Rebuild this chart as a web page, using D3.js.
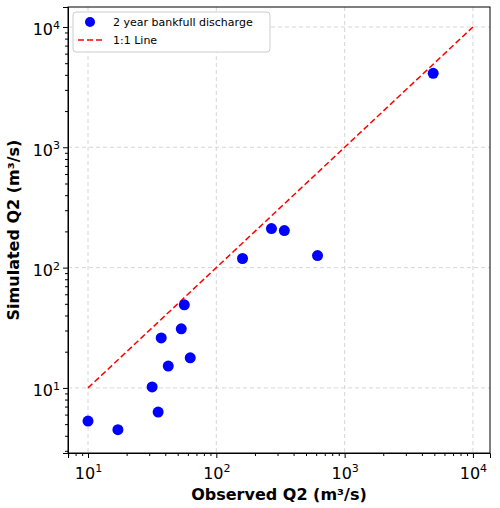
<!DOCTYPE html>
<html><head><meta charset="utf-8">
<script src="https://cdn.jsdelivr.net/npm/d3@7"></script>
<style>body{margin:0;background:#fff}text{font-family:"DejaVu Sans",sans-serif}</style>
</head><body><svg id="c" width="500" height="508"></svg>
<script>
const observed = [10, 17.1, 31.6, 35.2, 37.2, 42.2, 53.3, 56.3, 62.6, 160, 269, 339, 615, 4900];
const simulated = [5.3, 4.5, 10.2, 6.3, 26, 15.2, 31, 49, 17.8, 119, 211, 203, 126, 4120];
const oneToOne = [10, 10000];
const tickVals = [10, 100, 1000, 10000];

const svg = d3.select("#c");
const m = {l: 68, r: 490, t: 7, b: 453};
const x = d3.scaleLog().domain([10 ** 0.844, 10 ** 4.133]).range([m.l, m.r]);
const y = d3.scaleLog().domain([10 ** 0.459, 10 ** 4.166]).range([m.b, m.t]);

// grid
svg.append("g").selectAll("line").data(tickVals).join("line")
  .attr("x1", d => x(d)).attr("x2", d => x(d)).attr("y1", m.t).attr("y2", m.b)
  .attr("stroke", "#ccc").attr("stroke-dasharray", "4,3").attr("stroke-width", 0.8);
svg.append("g").selectAll("line").data(tickVals).join("line")
  .attr("y1", d => y(d)).attr("y2", d => y(d)).attr("x1", m.l).attr("x2", m.r)
  .attr("stroke", "#ccc").attr("stroke-dasharray", "4,3").attr("stroke-width", 0.8);

function sup(sel) {
  sel.selectAll("text").text(null).each(function(d) {
    const t = d3.select(this);
    t.append("tspan").text("10");
    t.append("tspan").attr("dy", "-0.6em").attr("font-size", "11px").text(Math.round(Math.log10(d)));
  });
}
const minor = [];
for (let e = 0; e < 5; e++) for (let k = 2; k < 10; k++) minor.push(k * 10 ** e);

const xa = svg.append("g").attr("transform", `translate(0,${m.b})`)
  .call(d3.axisBottom(x).tickValues(tickVals).tickSizeOuter(0).tickSize(5));
xa.selectAll("text").attr("font-size", "16px").attr("dy", "1.1em");
sup(xa);
svg.append("g").attr("transform", `translate(0,${m.b})`)
  .call(d3.axisBottom(x).tickValues(minor.filter(v => v > x.domain()[0] && v < x.domain()[1])).tickSize(3).tickFormat(""))
  .select(".domain").remove();

const ya = svg.append("g").attr("transform", `translate(${m.l},0)`)
  .call(d3.axisLeft(y).tickValues(tickVals).tickSizeOuter(0).tickSize(5));
ya.selectAll("text").attr("font-size", "16px").attr("dy", "0.5em");
sup(ya);
svg.append("g").attr("transform", `translate(${m.l},0)`)
  .call(d3.axisLeft(y).tickValues(minor.filter(v => v > y.domain()[0] && v < y.domain()[1])).tickSize(3).tickFormat(""))
  .select(".domain").remove();

svg.append("rect").attr("x", m.l).attr("y", m.t).attr("width", m.r - m.l).attr("height", m.b - m.t)
  .attr("fill", "none").attr("stroke", "#000");

svg.append("path").datum(oneToOne)
  .attr("d", d3.line().x(d => x(d)).y(d => y(d)))
  .attr("stroke", "red").attr("stroke-width", 1.5).attr("stroke-dasharray", "6,3").attr("fill", "none");

svg.append("g").selectAll("circle").data(observed).join("circle")
  .attr("cx", d => x(d)).attr("cy", (d, i) => y(simulated[i])).attr("r", 5.5).attr("fill", "blue");

svg.append("text").attr("x", (m.l + m.r) / 2).attr("y", 500).attr("text-anchor", "middle")
  .attr("font-size", "16px").attr("font-weight", "bold").text("Observed Q2 (m³/s)");
svg.append("text").attr("transform", `translate(19,${(m.t + m.b) / 2}) rotate(-90)`).attr("text-anchor", "middle")
  .attr("font-size", "16px").attr("font-weight", "bold").text("Simulated Q2 (m³/s)");

const lg = svg.append("g").attr("transform", "translate(73,12)");
lg.append("rect").attr("width", 197).attr("height", 40).attr("rx", 3).attr("fill", "#fff")
  .attr("stroke", "#ccc");
lg.append("circle").attr("cx", 17).attr("cy", 10).attr("r", 5).attr("fill", "blue");
lg.append("text").attr("x", 40).attr("y", 14).attr("font-size", "11px").text("2 year bankfull discharge");
lg.append("line").attr("x1", 5).attr("x2", 30).attr("y1", 28).attr("y2", 28)
  .attr("stroke", "red").attr("stroke-width", 1.5).attr("stroke-dasharray", "6,3");
lg.append("text").attr("x", 40).attr("y", 32).attr("font-size", "11px").text("1:1 Line");
</script></body></html>
